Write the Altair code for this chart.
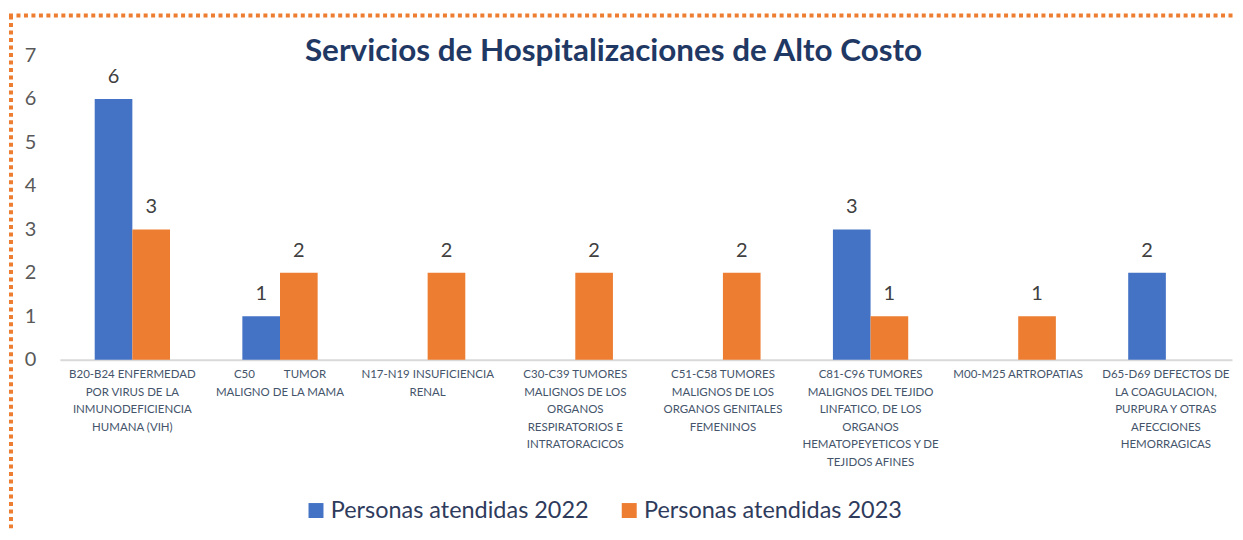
import altair as alt
import pandas as pd

categories = [
    "B20-B24 ENFERMEDAD|POR VIRUS DE LA|INMUNODEFICIENCIA|HUMANA (VIH)",
    "C50\u00a0\u00a0\u00a0\u00a0\u00a0\u00a0\u00a0\u00a0\u00a0\u00a0TUMOR|MALIGNO DE LA MAMA",
    "N17-N19 INSUFICIENCIA|RENAL",
    "C30-C39 TUMORES|MALIGNOS DE LOS|ORGANOS|RESPIRATORIOS E|INTRATORACICOS",
    "C51-C58 TUMORES|MALIGNOS DE LOS|ORGANOS GENITALES|FEMENINOS",
    "C81-C96 TUMORES|MALIGNOS DEL TEJIDO|LINFATICO, DE LOS|ORGANOS|HEMATOPEYETICOS Y DE|TEJIDOS AFINES",
    "M00-M25 ARTROPATIAS",
    "D65-D69 DEFECTOS DE|LA COAGULACION,|PURPURA Y OTRAS|AFECCIONES|HEMORRAGICAS",
]
series = ["Personas atendidas 2022", "Personas atendidas 2023"]
values_2022 = [6, 1, 0, 0, 0, 3, 0, 2]
values_2023 = [3, 2, 2, 2, 2, 1, 1, 0]
y_ticks = [0, 1, 2, 3, 4, 5, 6, 7]
title_text = "Servicios de Hospitalizaciones de Alto Costo"

rows = []
for c, a, b in zip(categories, values_2022, values_2023):
    rows.append({"cat": c, "serie": series[0], "val": a})
    rows.append({"cat": c, "serie": series[1], "val": b})
df = pd.DataFrame(rows)

FONT = "Lato"
blue, orange = "#4472C4", "#ED7D31"

x_enc = alt.X("cat:N", sort=categories,
              scale=alt.Scale(paddingInner=0.49, paddingOuter=0.2145, align=0.55),
              axis=alt.Axis(title=None, labelAngle=0, labelExpr="split(datum.label, '|')",
                            labelFont=FONT, labelFontSize=11.5, labelColor="#44546A",
                            labelLineHeight=17.5, labelLimit=0, labelPadding=9,
                            ticks=False, domainColor="#D9D9D9", domainWidth=2,
                            labelBaseline="top"))
xoff = alt.XOffset("serie:N", sort=series, scale=alt.Scale(paddingInner=0, paddingOuter=0))
y_enc = alt.Y("val:Q", scale=alt.Scale(domain=[0, 7], nice=False),
              axis=alt.Axis(title=None, values=y_ticks, grid=False, domain=False, ticks=False,
                            labelFont=FONT, labelFontSize=20, labelColor="#595959",
                            labelPadding=24))
color_enc = alt.Color("serie:N", sort=series,
                      scale=alt.Scale(domain=series, range=[blue, orange]),
                      legend=alt.Legend(title=None, orient="none", direction="horizontal",
                                        legendX=245, legendY=444, symbolType="square",
                                        symbolSize=225, symbolStrokeWidth=0,
                                        labelFont=FONT, labelFontSize=23.5, labelColor="#2F3B5C",
                                        labelOffset=3, columnPadding=28, labelLimit=0))

base = alt.Chart(df)
bars = base.mark_bar().encode(x=x_enc, xOffset=xoff, y=y_enc, color=color_enc)
labels = base.transform_filter("datum.val > 0").mark_text(
    baseline="bottom", dy=-12, font=FONT, fontSize=20, color="#404040"
).encode(x=x_enc, xOffset=xoff, y=y_enc, text="val:Q")

one = alt.Chart(pd.DataFrame({"a": [0]}))
title = one.mark_text(font=FONT, fontSize=31.5, fontWeight="bold", color="#1F3864",
                      baseline="middle", align="center").encode(
    x=alt.value(555), y=alt.value(-4), text=alt.value(title_text))
top_border = one.mark_rule(color=orange, strokeWidth=4, strokeDash=[4, 3.5]).encode(
    x=alt.value(-51), x2=alt.value(1180), y=alt.value(-40))
left_border = one.mark_rule(color=orange, strokeWidth=4, strokeDash=[4, 3.5]).encode(
    x=alt.value(-49), y=alt.value(-40), y2=alt.value(480))

chart = alt.layer(top_border, left_border, bars, labels, title).properties(
    width=1175, height=305, autosize="none", background="white",
    padding={"left": 52, "top": 47, "right": 3, "bottom": 170},
).configure_view(strokeWidth=0)

chart.save("out.html", embed_options={"renderer": "svg", "actions": False})
